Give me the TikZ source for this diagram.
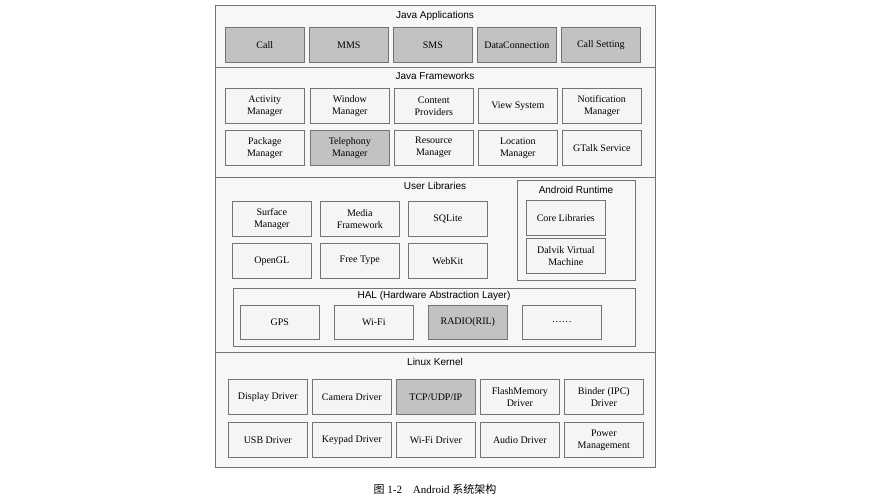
\documentclass[tikz,border=0pt]{standalone}
\usepackage{fontspec}
\setmainfont{Liberation Serif}
\newfontfamily\titlefont{Liberation Sans}
\newfontfamily\cjk{Noto Sans CJK SC}
\begin{document}
\begin{tikzpicture}[x=1pt,y=-1pt,
  frame/.style={draw=black!55,fill=black!3,line width=0.7pt},
  bx/.style={draw=black!55,fill=black!4,line width=0.6pt,anchor=north west,minimum width=79pt,minimum height=35pt,inner sep=1pt,align=center,font=\fontsize{10}{12}\selectfont},
  gbx/.style={bx,fill=black!24},
  ttl/.style={font=\titlefont\fontsize{10}{12}\selectfont}]
\useasboundingbox (0,0) rectangle (869,500);
\fill[white] (0,0) rectangle (869,500);
% frames
\draw[frame] (215,5) rectangle (655,67);
\draw[frame] (215,67) rectangle (655,177);
\draw[frame] (215,177) rectangle (655,352);
\draw[frame] (215,352) rectangle (655,467);
\node[ttl] (tApp) at (435,16) {Java Applications};
\node[gbx] (call) at (225,27) {Call};
\node[gbx] (mms) at (309,27) {MMS};
\node[gbx] (sms) at (393,27) {SMS};
\node[gbx] (dc) at (477,27) {DataConnection};
\node[gbx] (cs) at (561,27) {Call Setting};
\node[ttl] (tFw) at (435,76) {Java Frameworks};
\node[bx] (am) at (225,88) {Activity\\Manager};
\node[bx] (wm) at (310,88) {Window\\Manager};
\node[bx] (cp) at (394,88) {Content\\Providers};
\node[bx] (vs) at (478,88) {View System};
\node[bx] (nm) at (562,88) {Notification\\Manager};
\node[bx] (pm) at (225,130) {Package\\Manager};
\node[gbx] (tm) at (310,130) {Telephony\\Manager};
\node[bx] (rm) at (394,130) {Resource\\Manager};
\node[bx] (lm) at (478,130) {Location\\Manager};
\node[bx] (gt) at (562,130) {GTalk Service};
\node[ttl] (tUL) at (435,186) {User Libraries};
\node[bx] (sm) at (232,201) {Surface\\Manager};
\node[bx] (mf) at (320,201) {Media\\Framework};
\node[bx] (sq) at (408,201) {SQLite};
\node[bx] (gl) at (232,243) {OpenGL};
\node[bx] (ft) at (320,243) {Free Type};
\node[bx] (wk) at (408,243) {WebKit};
\draw[frame] (517,180) rectangle (635,280);
\node[ttl] (tAR) at (576,190) {Android Runtime};
\node[bx] (cl) at (526,200) {Core Libraries};
\node[bx] (dv) at (526,238) {Dalvik Virtual\\Machine};
\draw[frame] (233,288) rectangle (635,346);
\node[ttl] (tHAL) at (434,296) {HAL (Hardware Abstraction Layer)};
\node[bx,minimum height=34pt] (gps) at (240,305) {GPS};
\node[bx,minimum height=34pt] (wf) at (334,305) {Wi-Fi};
\node[gbx,minimum height=34pt] (rad) at (428,305) {RADIO(RIL)};
\node[bx,minimum height=34pt] (dots) at (522,305) {\textellipsis\textellipsis};
\node[ttl] (tLK) at (435,362) {Linux Kernel};
\node[bx] (dd) at (228,379) {Display Driver};
\node[bx] (cd) at (312,379) {Camera Driver};
\node[gbx] (tcp) at (396,379) {TCP/UDP/IP};
\node[bx] (fm) at (480,379) {FlashMemory\\Driver};
\node[bx] (bd) at (564,379) {Binder (IPC)\\Driver};
\node[bx] (usb) at (228,422) {USB Driver};
\node[bx] (kd) at (312,422) {Keypad Driver};
\node[bx] (wd) at (396,422) {Wi-Fi Driver};
\node[bx] (ad) at (480,422) {Audio Driver};
\node[bx] (pw) at (564,422) {Power\\Management};
\node[font=\fontsize{11}{13}\selectfont] (cap) at (435,489) {{\cjk 图} 1-2\quad Android {\cjk 系统架构}};
\end{tikzpicture}
\end{document}
